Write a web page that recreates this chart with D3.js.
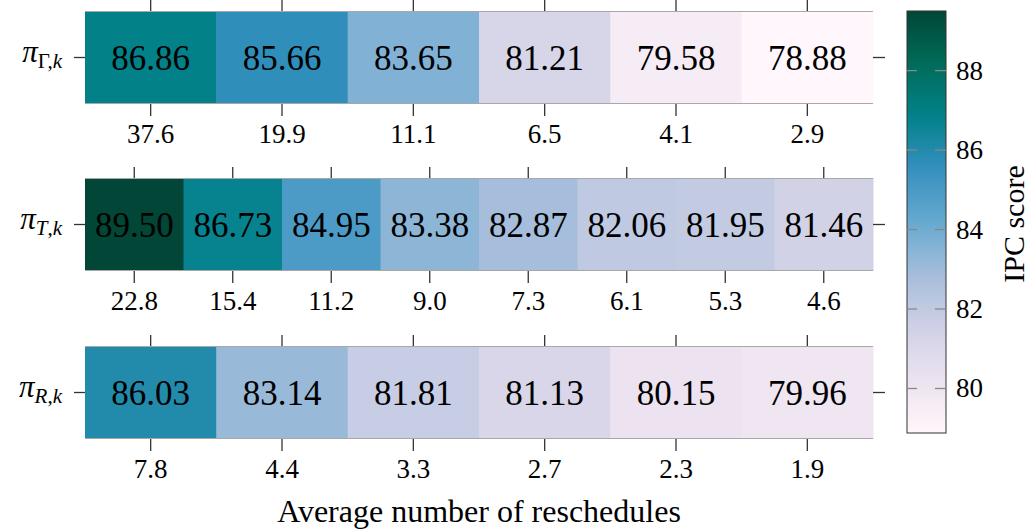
<!DOCTYPE html>
<html>
<head>
<meta charset="utf-8">
<script src="https://cdn.jsdelivr.net/npm/d3@7"></script>
<style>
  html, body { margin: 0; padding: 0; background: #fff; }
  svg { display: block; }
  svg text { font-family: "Liberation Serif", "Times New Roman", serif !important; }
</style>
</head>
<body>
<svg id="chart" width="1030" height="529"></svg>
<script>
// IPC score per policy setting, with the average number of reschedules below each cell
const gammaScores = [86.86, 85.66, 83.65, 81.21, 79.58, 78.88];
const gammaResched = ["37.6", "19.9", "11.1", "6.5", "4.1", "2.9"];

const tScores = [89.50, 86.73, 84.95, 83.38, 82.87, 82.06, 81.95, 81.46];
const tResched = ["22.8", "15.4", "11.2", "9.0", "7.3", "6.1", "5.3", "4.6"];

const rScores = [86.03, 83.14, 81.81, 81.13, 80.15, 79.96];
const rResched = ["7.8", "4.4", "3.3", "2.7", "2.3", "1.9"];

const colorTicks = [80, 82, 84, 86, 88];
const colorDomain = [78.88, 89.50];

const rows = [
  { sym: "Γ", symItalic: false, scores: gammaScores, resched: gammaResched },
  { sym: "T", symItalic: true, scores: tScores, resched: tResched },
  { sym: "R", symItalic: true, scores: rScores, resched: rResched }
];

const FONT = "Liberation Serif, Times New Roman, serif";
const svg = d3.select("#chart").attr("font-family", FONT);

// PuBuGn colormap, linear between the nine ColorBrewer anchors
const ramp = d3.piecewise(d3.interpolateRgb, d3.schemePuBuGn[9]);
const color = d3.scaleSequential(ramp).domain(colorDomain);

const left = 85, right = 873;
const rowTops = [11, 178, 346];
const rowH = 93;

rows.forEach((row, ri) => {
  const top = rowTops[ri];
  const g = svg.append("g");
  const x = d3.scaleBand()
    .domain(d3.range(row.scores.length))
    .range([left, right])
    .paddingInner(0).paddingOuter(0);
  const y = d3.scaleBand().domain([0]).range([top, top + rowH]);

  // cells
  g.selectAll("rect.cell")
    .data(row.scores)
    .join("rect")
    .attr("class", "cell")
    .attr("x", (d, i) => x(i))
    .attr("y", y(0))
    .attr("width", x.bandwidth() + 0.5)
    .attr("height", y.bandwidth())
    .attr("fill", d => color(d));

  // top and bottom frame lines
  g.append("line").attr("x1", left).attr("x2", right)
    .attr("y1", top + 0.5).attr("y2", top + 0.5)
    .attr("stroke", "#a8a8a8").attr("stroke-width", 1);
  g.append("line").attr("x1", left).attr("x2", right)
    .attr("y1", top + rowH - 0.5).attr("y2", top + rowH - 0.5)
    .attr("stroke", "#a8a8a8").attr("stroke-width", 1);

  // cell value labels
  g.selectAll("text.val")
    .data(row.scores)
    .join("text")
    .attr("class", "val")
    .attr("x", (d, i) => x(i) + x.bandwidth() / 2)
    .attr("y", top + rowH / 2 + 12)
    .attr("text-anchor", "middle")
    .attr("font-family", FONT)
    .attr("font-size", 35)
    .attr("fill", "#000")
    .text(d => d.toFixed(2));

  // top ticks and bottom ticks with reschedule counts
  const tickAxisTop = d3.axisTop(x).tickSize(11).tickFormat(() => "");
  const ga = g.append("g").attr("transform", `translate(0,${top})`).call(tickAxisTop);
  ga.select(".domain").remove();
  ga.selectAll(".tick line").attr("stroke", "#333").attr("stroke-width", 1.3);

  const tickAxisBottom = d3.axisBottom(x).tickSize(12).tickPadding(8)
    .tickFormat(i => row.resched[i]);
  const gb = g.append("g").attr("transform", `translate(0,${top + rowH})`).call(tickAxisBottom);
  gb.attr("font-family", FONT);
  gb.select(".domain").remove();
  gb.selectAll(".tick line").attr("stroke", "#333").attr("stroke-width", 1.3);
  gb.selectAll(".tick text")
    .attr("font-family", FONT)
    .attr("font-size", 27).attr("fill", "#000");

  // left / right ticks at the row centre
  const ga2 = g.append("g").attr("transform", `translate(${left},0)`)
    .call(d3.axisLeft(y).tickSize(11).tickFormat(() => ""));
  ga2.select(".domain").remove();
  ga2.selectAll(".tick line").attr("stroke", "#333").attr("stroke-width", 1.3);
  const gr = g.append("g").attr("transform", `translate(${right},0)`)
    .call(d3.axisRight(y).tickSize(12).tickFormat(() => ""));
  gr.select(".domain").remove();
  gr.selectAll(".tick line").attr("stroke", "#333").attr("stroke-width", 1.3);

  // row label  π_{sym,k}
  const cy = top + rowH / 2;
  const lab = g.append("text")
    .attr("x", 62).attr("y", cy + 4)
    .attr("text-anchor", "end")
    .attr("font-family", FONT)
    .attr("fill", "#000");
  lab.append("tspan").attr("font-size", 31).attr("font-style", "italic").text("π");
  lab.append("tspan").attr("font-size", 21).attr("dy", 6)
    .attr("font-style", row.symItalic ? "italic" : "normal").text(row.sym);
  lab.append("tspan").attr("font-size", 21).attr("font-style", "normal").text(",");
  lab.append("tspan").attr("font-size", 21).attr("font-style", "italic").text("k");
});

// x axis title
svg.append("text")
  .attr("x", 479).attr("y", 522)
  .attr("text-anchor", "middle")
  .attr("font-family", FONT)
  .attr("font-size", 32)
  .attr("fill", "#000")
  .text("Average number of reschedules");

// colour bar
const cbX = 907, cbW = 39, cbTop = 11, cbBottom = 433;
const cy = d3.scaleLinear().domain(colorDomain).range([cbBottom, cbTop]);

const defs = svg.append("defs");
const grad = defs.append("linearGradient")
  .attr("id", "cbgrad").attr("x1", 0).attr("y1", 1).attr("x2", 0).attr("y2", 0);
d3.range(0, 1.0001, 0.02).forEach(t => {
  grad.append("stop").attr("offset", t)
    .attr("stop-color", color(colorDomain[0] + t * (colorDomain[1] - colorDomain[0])));
});
svg.append("rect")
  .attr("x", cbX).attr("y", cbTop)
  .attr("width", cbW).attr("height", cbBottom - cbTop)
  .attr("fill", "url(#cbgrad)")
  .attr("stroke", "#333").attr("stroke-width", 1);

const cbTicks = svg.append("g").selectAll("g").data(colorTicks).join("g")
  .attr("transform", d => `translate(0,${cy(d)})`);
cbTicks.append("line").attr("x1", cbX).attr("x2", cbX + 10)
  .attr("stroke", "#888").attr("stroke-width", 1.3);
cbTicks.append("line").attr("x1", cbX + cbW - 11).attr("x2", cbX + cbW)
  .attr("stroke", "#888").attr("stroke-width", 1.3);
cbTicks.append("text")
  .attr("x", cbX + cbW + 10).attr("y", 9)
  .attr("font-family", FONT)
  .attr("font-size", 27).attr("fill", "#000")
  .text(d => d);

svg.append("text")
  .attr("transform", `translate(1024,${(cbTop + cbBottom) / 2 + 2}) rotate(-90)`)
  .attr("text-anchor", "middle")
  .attr("font-family", FONT)
  .attr("font-size", 30).attr("fill", "#000")
  .text("IPC score");
</script>
</body>
</html>
